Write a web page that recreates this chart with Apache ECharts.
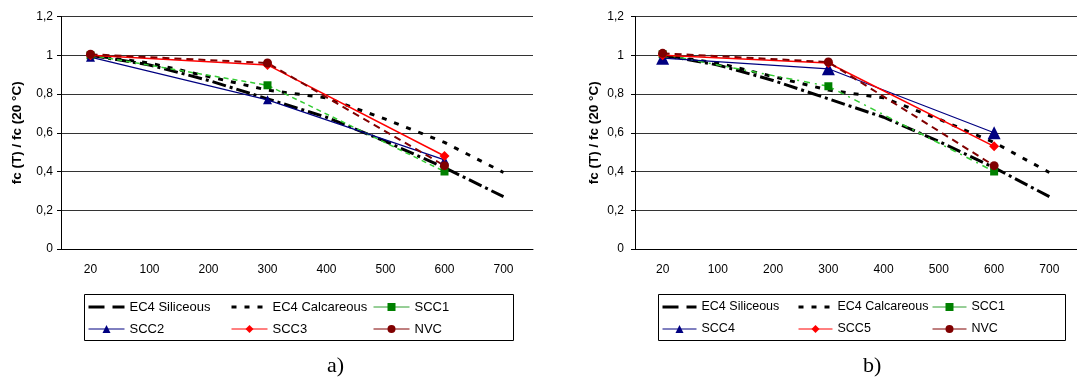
<!DOCTYPE html>
<html>
<head>
<meta charset="utf-8">
<script src="https://cdn.jsdelivr.net/npm/echarts@6/dist/echarts.min.js"></script>
<style>
  html, body { margin: 0; padding: 0; background: #fff; }
  #chart { width: 1077px; height: 380px; }
</style>
</head>
<body>
<div id="chart"></div>
<script>
const temps = ['20', '100', '200', '300', '400', '500', '600', '700']

// Eurocode curves (same in both panels)
const ec4Siliceous = [1.0, 0.95, 0.87, 0.775, 0.68, 0.555, 0.42, 0.27]
const ec4Calcareous = [1.0, 0.96, 0.89, 0.82, 0.78, 0.67, 0.55, 0.395]

// panel a)
const scc1A = [1.0, null, null, 0.845, null, null, 0.40, null]
const scc2 = [0.99, null, null, 0.77, null, null, 0.46, null]
const scc3 = [1.0, null, null, 0.95, null, null, 0.48, null]
const nvcA = [1.005, null, null, 0.96, null, null, 0.43, null]

// panel b)
const scc1B = [1.005, null, null, 0.84, null, null, 0.40, null]
const scc4 = [0.985, null, null, 0.93, null, null, 0.60, null]
const scc5 = [1.0, null, null, 0.96, null, null, 0.53, null]
const nvcB = [1.01, null, null, 0.965, null, null, 0.43, null]

// legend columns (two rows each)
const legendColsA = [['EC4 Siliceous', 'SCC2'], ['EC4 Calcareous', 'SCC3'], ['SCC1', 'NVC']]
const legendColsB = [['EC4 Siliceous', 'SCC4'], ['EC4 Calcareous', 'SCC5'], ['SCC1', 'NVC']]

const FONT = 'Arial, "Liberation Sans", sans-serif'

const chart = echarts.init(document.getElementById('chart'), null, { renderer: 'canvas' })

const ec4Series = (gi) => [
  {
    name: 'EC4 Siliceous', type: 'line', xAxisIndex: gi, yAxisIndex: gi,
    symbol: 'none', data: ec4Siliceous,
    lineStyle: { color: '#000', width: 3, type: [14, 4, 3, 4] }, itemStyle: { color: '#000' }
  },
  {
    name: 'EC4 Calcareous', type: 'line', xAxisIndex: gi, yAxisIndex: gi,
    symbol: 'none', data: ec4Calcareous,
    lineStyle: { color: '#000', width: 3, type: [5, 8] }, itemStyle: { color: '#000' }
  }
]

const pt = (name, data, gi, o) => ({
  name, type: 'line', xAxisIndex: gi, yAxisIndex: gi, data,
  connectNulls: true, symbol: o.symbol, symbolSize: o.size,
  lineStyle: { color: o.line, width: o.width, type: o.type || 'solid' },
  itemStyle: { color: o.mark }
})

const xAxis = (gi) => ({
  type: 'category', gridIndex: gi, data: temps,
  axisLine: { lineStyle: { color: '#000', width: 1 } },
  axisTick: { length: 5, lineStyle: { color: '#000' } },
  axisLabel: { color: '#000', fontSize: 12, fontFamily: FONT, margin: 15 }
})

const yAxis = (gi, gap, margin) => ({
  type: 'value', gridIndex: gi, min: 0, max: 1.2, interval: 0.2,
  name: 'fc (T) / fc (20 °C)', nameLocation: 'middle', nameGap: gap,
  nameTextStyle: { color: '#000', fontSize: 13.5, fontWeight: 'bold', fontFamily: FONT },
  axisLine: { show: true, lineStyle: { color: '#000', width: 1 } },
  axisTick: { show: true, length: 4, lineStyle: { color: '#000' } },
  axisLabel: {
    color: '#000', fontSize: 12, fontFamily: FONT, margin: margin,
    formatter: v => String(+v.toFixed(1)).replace('.', ',')
  },
  splitLine: { lineStyle: { color: '#333', width: 1 } }
})

const legendItem = (n) => {
  if (n === 'EC4 Siliceous') return { name: n, lineStyle: { type: [16, 8], width: 3 }, itemStyle: { opacity: 0 } }
  if (n === 'EC4 Calcareous') return { name: n, lineStyle: { type: [5, 8], width: 3 }, itemStyle: { opacity: 0 } }
  if (n === 'SCC1') return { name: n, lineStyle: { type: 'solid', width: 1, color: '#2e9e2e' } }
  if (n === 'NVC') return { name: n, lineStyle: { type: 'solid', width: 1 } }
  return { name: n, lineStyle: { width: 1 } }
}

const legendCol = (left, names, iconW, fs) => ({
  left, top: 300.5, orient: 'vertical', itemGap: 9, itemWidth: iconW, itemHeight: 10,
  padding: 0,
  textStyle: { color: '#000', fontSize: fs, fontFamily: FONT },
  data: names.map(legendItem)
})

const colsLeftA = [87, 230, 373]
const colsLeftB = [661, 797, 932]

chart.setOption({
  animation: false,
  grid: [
    { left: 61, top: 16.5, width: 472, height: 232.5 },
    { left: 635, top: 16.5, width: 448, height: 232.5 }
  ],
  xAxis: [xAxis(0), xAxis(1)],
  yAxis: [yAxis(0, 37, 8), yAxis(1, 34, 11)],
  legend: [
    ...legendColsA.map((c, i) => legendCol(colsLeftA[i], c, 36, 13)),
    ...legendColsB.map((c, i) => legendCol(colsLeftB[i], c, 34, 12.5))
  ],
  graphic: [
    { type: 'rect', left: 82, top: 292, shape: { width: 429, height: 46 }, style: { fill: 'none', stroke: '#000', lineWidth: 1 } },
    { type: 'rect', left: 656, top: 292, shape: { width: 407, height: 46 }, style: { fill: 'none', stroke: '#000', lineWidth: 1 } },
    { type: 'text', left: 327, top: 355, style: { text: 'a)', font: '22px "Liberation Serif", "Times New Roman", serif', fill: '#000' } },
    { type: 'text', left: 863, top: 355, style: { text: 'b)', font: '22px "Liberation Serif", "Times New Roman", serif', fill: '#000' } }
  ],
  series: [
    ...ec4Series(0),
    pt('SCC1', scc1A, 0, { symbol: 'rect', size: 8, line: '#33cc33', mark: '#008000', width: 1.5, type: [5, 4] }),
    pt('SCC2', scc2, 0, { symbol: 'triangle', size: 9, line: '#000080', mark: '#000080', width: 1.2 }),
    pt('SCC3', scc3, 0, { symbol: 'diamond', size: 10, line: '#ff0000', mark: '#ff0000', width: 1.5 }),
    pt('NVC', nvcA, 0, { symbol: 'circle', size: 9, line: '#800000', mark: '#800000', width: 2, type: [7, 5] }),
    ...ec4Series(1),
    pt('SCC1', scc1B, 1, { symbol: 'rect', size: 8, line: '#33cc33', mark: '#008000', width: 1.5, type: [6, 5, 2, 5] }),
    pt('SCC4', scc4, 1, { symbol: 'triangle', size: 13, line: '#000080', mark: '#000080', width: 1.2 }),
    pt('SCC5', scc5, 1, { symbol: 'diamond', size: 10, line: '#ff0000', mark: '#ff0000', width: 1.5 }),
    pt('NVC', nvcB, 1, { symbol: 'circle', size: 9, line: '#800000', mark: '#800000', width: 2, type: [7, 5] })
  ]
})
</script>
</body>
</html>
